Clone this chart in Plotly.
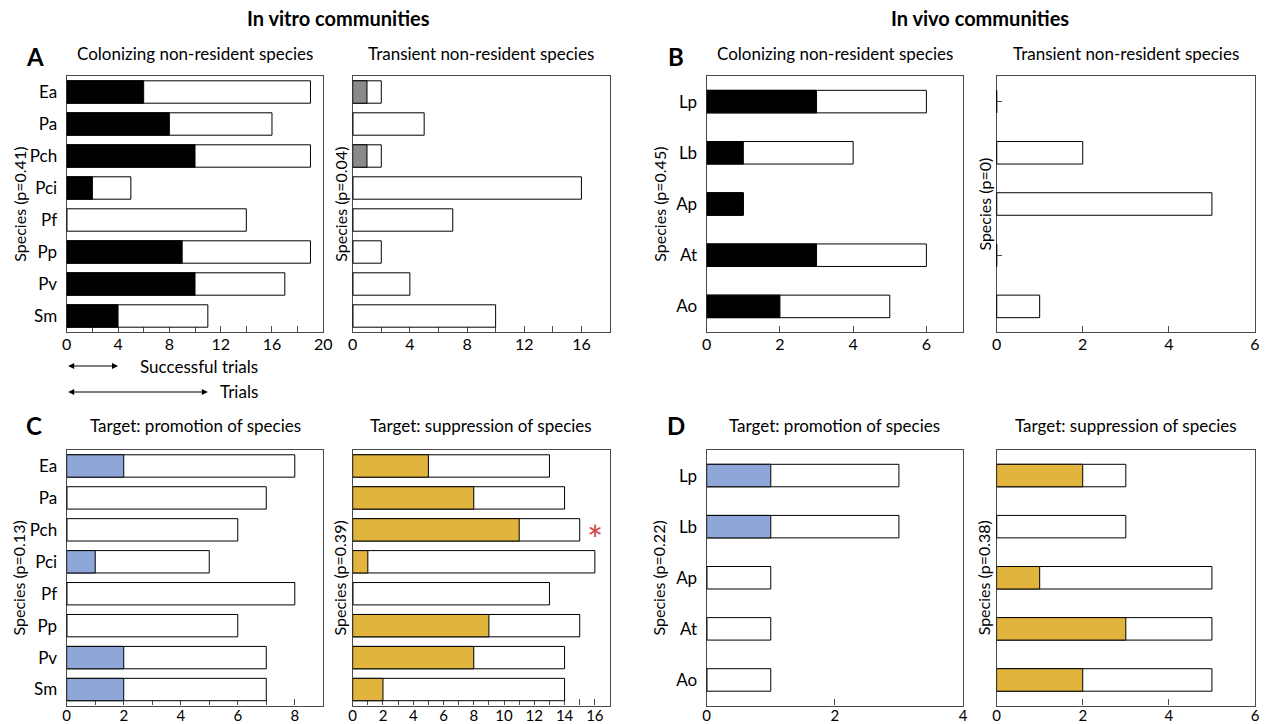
import plotly.graph_objects as go

# ---------------- data ----------------
vitro_species = ["Ea", "Pa", "Pch", "Pci", "Pf", "Pp", "Pv", "Sm"]
vivo_species = ["Lp", "Lb", "Ap", "At", "Ao"]

a_col_trials = [19, 16, 19, 5, 14, 19, 17, 11]
a_col_success = [6, 8, 10, 2, 0, 9, 10, 4]
a_tr_trials = [2, 5, 2, 16, 7, 2, 4, 10]
a_tr_success = [1, 0, 1, 0, 0, 0, 0, 0]

b_col_trials = [6, 4, 1, 6, 5]
b_col_success = [3, 1, 1, 3, 2]
b_tr_trials = [0, 2, 5, 0, 1]
b_tr_success = [0, 0, 0, 0, 0]

c_pro_trials = [8, 7, 6, 5, 8, 6, 7, 7]
c_pro_success = [2, 0, 0, 1, 0, 0, 2, 2]
c_sup_trials = [13, 14, 15, 16, 13, 15, 14, 14]
c_sup_success = [5, 8, 11, 1, 0, 9, 8, 2]

d_pro_trials = [3, 3, 1, 1, 1]
d_pro_success = [1, 1, 0, 0, 0]
d_sup_trials = [3, 3, 5, 5, 5]
d_sup_success = [2, 0, 1, 3, 2]

p_labels = ["Species (p=0.41)", "Species (p=0.04)", "Species (p=0.45)", "Species (p=0)",
            "Species (p=0.13)", "Species (p=0.39)", "Species (p=0.22)", "Species (p=0.38)"]
sub_titles = ["Colonizing non-resident species", "Transient non-resident species",
              "Colonizing non-resident species", "Transient non-resident species",
              "Target: promotion of species", "Target: suppression of species",
              "Target: promotion of species", "Target: suppression of species"]

# ---------------- style ----------------
W, H = 1266, 724
FONT = "Lato, 'Open Sans', sans-serif"
BLACK = "#000000"
GRAY = "#8a8a8a"
BLUE = "#8fa6d8"
GOLD = "#e1b43e"
AXC = "#4a4a4a"

def px2x(p):
    return p / W

def px2y(p):
    return 1 - p / H

# box pixel positions (left, right, top, bottom)
col_x = [(66.7, 323.3), (352.7, 610.0), (706.7, 963.0), (996.6, 1255.0)]
row_y = [(76.0, 332.0), (450.0, 705.5)]

panels = [
    (vitro_species, a_col_trials, a_col_success, BLACK, [0, 20], 4, 2),
    (vitro_species, a_tr_trials, a_tr_success, GRAY, [0, 18], 4, 2),
    (vivo_species, b_col_trials, b_col_success, BLACK, [0, 7], 2, None),
    (vivo_species, b_tr_trials, b_tr_success, BLACK, [0, 6], 2, None),
    (vitro_species, c_pro_trials, c_pro_success, BLUE, [0, 9], 2, 1),
    (vitro_species, c_sup_trials, c_sup_success, GOLD, [0, 17], 2, 1),
    (vivo_species, d_pro_trials, d_pro_success, BLUE, [0, 4], 2, None),
    (vivo_species, d_sup_trials, d_sup_success, GOLD, [0, 6], 2, None),
]

fig = go.Figure()
annotations = []

for i, (species, trials, success, color, xr, dt, mdt) in enumerate(panels):
    n = i + 1
    xa = "x" if n == 1 else f"x{n}"
    ya = "y" if n == 1 else f"y{n}"
    row = 0 if i < 4 else 1
    col = i % 4
    bw = 0.7 if len(species) == 8 else 0.44
    fig.add_trace(go.Bar(
        y=species, x=trials, orientation="h", xaxis=xa, yaxis=ya,
        marker=dict(color="white", line=dict(color=BLACK, width=1)),
        width=bw, showlegend=False, hoverinfo="x+y"))
    fig.add_trace(go.Bar(
        y=species, x=success, orientation="h", xaxis=xa, yaxis=ya,
        marker=dict(color=color, line=dict(color=BLACK, width=1)),
        width=bw, showlegend=False, hoverinfo="x+y"))

    x0, x1 = col_x[col]
    y0, y1 = row_y[row]
    xaxis = dict(
        domain=[px2x(x0), px2x(x1)], range=xr, anchor=ya, automargin=False,
        showline=True, linecolor=AXC, linewidth=1.3, mirror=True,
        showgrid=False, zeroline=False,
        ticks="inside", ticklen=6, tickcolor=AXC, tickwidth=1,
        dtick=dt, tick0=0, layer="below traces",
        ticklabelstandoff=(-2 if row == 0 else -4),
        tickfont=dict(family=FONT, size=(16 if row == 0 else 15), color="black"),
    )
    if mdt is not None:
        xaxis["minor"] = dict(dtick=mdt, tick0=0, ticks="inside", ticklen=6,
                              tickcolor=AXC, tickwidth=1, showgrid=False)
    yaxis = dict(
        domain=[px2y(y1), px2y(y0)], anchor=xa, automargin=False,
        type="category", categoryorder="array", categoryarray=species,
        range=[len(species) - 0.5, -0.5],
        showline=True, linecolor=AXC, linewidth=1.3, mirror=True,
        showgrid=False, zeroline=False,
        ticks="inside", ticklen=5, tickcolor=AXC, layer="below traces",
        showticklabels=(col % 2 == 0), ticklabelstandoff=5,
        tickfont=dict(family=FONT, size=17, color="black"),
    )
    fig.update_layout({("xaxis" if n == 1 else f"xaxis{n}"): xaxis,
                       ("yaxis" if n == 1 else f"yaxis{n}"): yaxis})

    annotations.append(dict(
        text=sub_titles[i], xref="paper", yref="paper",
        x=px2x((x0 + x1) / 2), y=px2y(54 if row == 0 else 425),
        xanchor="center", yanchor="middle", showarrow=False,
        font=dict(family=FONT, size=17, color="black")))
    yt_x = x0 - (48 if col % 2 == 0 else 13)
    annotations.append(dict(
        text=p_labels[i], xref="paper", yref="paper",
        x=px2x(yt_x), y=px2y((y0 + y1) / 2), textangle=-90,
        xanchor="center", yanchor="middle", showarrow=False,
        font=dict(family=FONT, size=16, color="black")))

annotations.append(dict(text="<b>In vitro communities</b>", xref="paper", yref="paper",
                        x=px2x(338), y=px2y(18), showarrow=False,
                        xanchor="center", yanchor="middle",
                        font=dict(family=FONT, size=20, color="black")))
annotations.append(dict(text="<b>In vivo communities</b>", xref="paper", yref="paper",
                        x=px2x(980), y=px2y(18), showarrow=False,
                        xanchor="center", yanchor="middle",
                        font=dict(family=FONT, size=20, color="black")))
for letter, lx, ly in [("A", 35, 56), ("B", 676, 56), ("C", 34, 425), ("D", 676, 425)]:
    annotations.append(dict(text=f"<b>{letter}</b>", xref="paper", yref="paper",
                            x=px2x(lx), y=px2y(ly), showarrow=False,
                            xanchor="center", yanchor="middle",
                            font=dict(family=FONT, size=24, color="black")))

for val, ypx, label in [(a_col_success[-1], 366, "Successful trials"),
                        (a_col_trials[-1], 392, "Trials")]:
    annotations.append(dict(text="", xref="x", yref="paper", x=val, y=px2y(ypx),
                            axref="x", ax=0, ayref="pixel", ay=0,
                            showarrow=True, arrowhead=2, arrowside="end+start",
                            arrowsize=1, arrowwidth=1.2, arrowcolor="black",
                            standoff=0, startstandoff=0))
    annotations.append(dict(text=label, xref="paper", yref="paper",
                            x=px2x(260), y=px2y(ypx), xanchor="right", yanchor="middle",
                            showarrow=False, font=dict(family=FONT, size=17, color="black")))

annotations.append(dict(text="*", xref="x6", yref="y6", x=16, y="Pch",
                        showarrow=False, xanchor="center", yanchor="middle", yshift=-9,
                        font=dict(family=FONT, size=38, color="#d0484a")))

fig.update_layout(
    width=W, height=H, margin=dict(l=0, r=0, t=0, b=0),
    paper_bgcolor="white", plot_bgcolor="white",
    barmode="overlay", annotations=annotations,
    font=dict(family=FONT, size=16, color="black"),
)

fig.write_html("out.html", config={"displayModeBar": False},
               post_script="document.body.style.margin='0px';")
